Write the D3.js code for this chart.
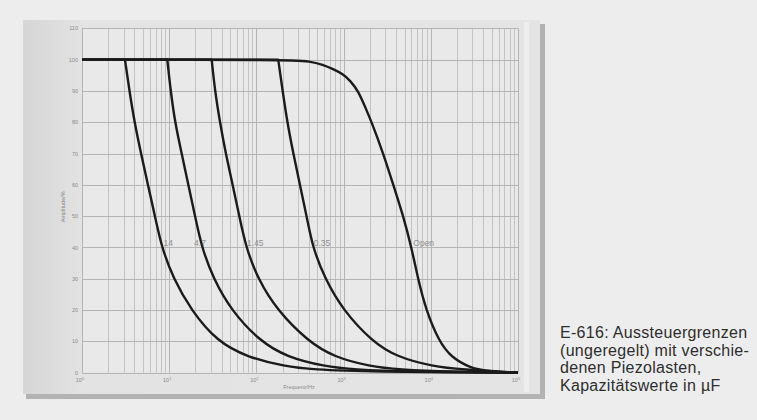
<!DOCTYPE html>
<html>
<head>
<meta charset="utf-8">
<script src="https://cdn.jsdelivr.net/npm/d3@7"></script>
<style>
  html, body { margin: 0; padding: 0; background: #ededed; }
  svg { display: block; font-family: "Liberation Sans", Arial, sans-serif; }
</style>
</head>
<body>
<svg id="chart" width="757" height="420"></svg>
<script>
// series names (capacitance in µF)
var seriesNames = ["14", "4.7", "1.45", "0.35", "Open"];

// frequency in Hz, amplitude in %
var freq14 = [3.11, 3.5, 4.0, 4.75, 5.71, 6.87, 8.2, 11.2, 17.8, 35.3, 78, 213, 446, 1855, 100000];
var amp14  = [100, 90, 80, 70, 60, 50, 40, 30, 20, 10, 5, 2, 1, 0.3, 0];

var freq4p7 = [9.51, 10.4, 11.65, 13.9, 16.6, 19.8, 23.6, 32.2, 51.1, 110, 224, 612, 1282, 5335, 100000];
var amp4p7  = [100, 90, 80, 70, 60, 50, 40, 30, 20, 10, 5, 2, 1, 0.3, 0];

var freq1p45 = [30.7, 33.5, 38.2, 44.5, 53.5, 63.7, 76, 104, 172, 391, 776, 2009, 4206, 17500, 100000];
var amp1p45  = [100, 90, 80, 70, 60, 50, 40, 30, 20, 10, 5, 2, 1, 0.3, 0];

var freq0p35 = [178, 200, 226, 265, 316, 377, 442, 612, 984, 2117, 4097, 10600, 22200, 100000];
var amp0p35  = [100, 90, 80, 70, 60, 50, 40, 30, 20, 10, 5, 2, 1, 0];

var freqOpen = [1, 243, 412, 580, 756, 984, 1184, 1474, 1760, 2100, 2853, 3715, 4837, 6005, 7132, 8810, 12420, 17050, 28140, 47730, 100000];
var ampOpen  = [100, 100, 99.5, 98.4, 97, 95.4, 93.4, 90, 85, 80, 70, 60, 50, 40, 30, 20, 10, 5, 1.5, 0.4, 0];

// where each curve label sits (Hz, at 40 %)
var labelFreq = [8.6, 19.3, 78, 455, 6300];
var labelAmp = 40;

var yTicks = [0, 10, 20, 30, 40, 50, 60, 70, 80, 90, 100, 110];
var xDecades = [0, 1, 2, 3, 4, 5];

var captionLines = [
  "E-616: Aussteuergrenzen",
  "(ungeregelt) mit verschie-",
  "denen Piezolasten,",
  "Kapazitätswerte in µF"
];

var xTitle = "Frequenz/Hz";
var yTitle = "Amplitude/%";

var allFreq = [freq14, freq4p7, freq1p45, freq0p35, freqOpen];
var allAmp = [amp14, amp4p7, amp1p45, amp0p35, ampOpen];

var series = seriesNames.map((name, i) => ({
  name: name,
  points: allFreq[i].map((f, j) => ({ f: f, a: allAmp[i][j] })),
  labelF: labelFreq[i]
}));

function drawChart() {
  var svg = d3.select("#chart");

  var x = d3.scaleLog().domain([1, 1e5]).range([82, 518]);
  var y = d3.scaleLinear().domain([0, 110]).range([372.7, 28.4]);

  // panel with shadow
  var defs = svg.append("defs");
  var grad = defs.append("linearGradient").attr("id", "panelGrad")
      .attr("x1", "0").attr("x2", "1").attr("y1", "0").attr("y2", "0");
  grad.append("stop").attr("offset", "0").attr("stop-color", "#d6d6d6");
  grad.append("stop").attr("offset", "0.12").attr("stop-color", "#e3e3e3");
  grad.append("stop").attr("offset", "1").attr("stop-color", "#e4e4e4");

  svg.append("rect")
      .attr("x", 26).attr("y", 24)
      .attr("width", 519).attr("height", 375)
      .attr("fill", "#b3b3b3");
  svg.append("rect")
      .attr("x", 23).attr("y", 20)
      .attr("width", 517).attr("height", 374)
      .attr("fill", "url(#panelGrad)");
  svg.append("rect")
      .attr("x", 524).attr("y", 22)
      .attr("width", 5).attr("height", 370)
      .attr("fill", "#eeeeee");

  // plot area
  svg.append("rect")
      .attr("x", x(1)).attr("y", y(110))
      .attr("width", x(1e5) - x(1)).attr("height", y(0) - y(110))
      .attr("fill", "#e9e9e9");

  var minorTicks = [];
  xDecades.forEach(d => {
    for (var k = 1; k < 10; k++) {
      var v = k * Math.pow(10, d);
      if (v <= 1e5) minorTicks.push(v);
    }
  });

  var grid = svg.append("g").attr("class", "grid");
  grid.selectAll(".vline")
    .data(minorTicks)
    .enter()
      .append("line")
      .attr("x1", d => Math.round(x(d)) + 0.5)
      .attr("x2", d => Math.round(x(d)) + 0.5)
      .attr("y1", y(110))
      .attr("y2", y(0))
      .attr("stroke", d => Math.log10(d) % 1 === 0 ? "#b4b4b4" : "#c3c3c3")
      .attr("stroke-width", 1);

  grid.selectAll(".hline")
    .data(yTicks)
    .enter()
      .append("line")
      .attr("x1", x(1))
      .attr("x2", x(1e5))
      .attr("y1", d => Math.round(y(d)) + 0.5)
      .attr("y2", d => Math.round(y(d)) + 0.5)
      .attr("stroke", "#b4b4b4")
      .attr("stroke-width", 1);

  // y tick labels
  svg.append("g").selectAll("text")
    .data(yTicks)
    .enter()
      .append("text")
      .attr("x", x(1) - 4)
      .attr("y", d => y(d) + 2)
      .attr("text-anchor", "end")
      .attr("font-size", "5.5px")
      .attr("fill", "#8a8a8a")
      .text(d => d);

  // x tick labels 10^n
  var xl = svg.append("g").selectAll("text")
    .data(xDecades)
    .enter()
      .append("text")
      .attr("x", d => x(Math.pow(10, d)) - 2)
      .attr("y", 382)
      .attr("text-anchor", "middle")
      .attr("font-size", "5.5px")
      .attr("fill", "#8a8a8a");
  xl.append("tspan").text("10");
  xl.append("tspan").attr("dy", "-2.5").attr("font-size", "4px").text(d => d);

  svg.append("text")
      .attr("x", 299).attr("y", 389)
      .attr("text-anchor", "middle")
      .attr("font-size", "5.5px")
      .attr("fill", "#8a8a8a")
      .text(xTitle);

  svg.append("text")
      .attr("transform", "translate(65," + y(53) + ") rotate(-90)")
      .attr("text-anchor", "middle")
      .attr("font-size", "5.5px")
      .attr("fill", "#8a8a8a")
      .text(yTitle);

  // curves
  var line = d3.line()
      .x(d => x(d.f))
      .y(d => y(d.a))
      .curve(d3.curveBasis);

  svg.append("g").selectAll(".curve")
    .data(series)
    .enter()
      .append("path")
      .classed("curve", true)
      .attr("d", d => {
        // flat part from 1 Hz up to the break, then the smoothed fall-off
        var flat = d3.line().x(p => x(p.f)).y(p => y(p.a))([{ f: 1, a: 100 }, d.points[0]]);
        return flat + line(d.points).replace(/^M/, "L");
      })
      .attr("fill", "none")
      .attr("stroke", "#1b1b1b")
      .attr("stroke-width", 2.4)
      .attr("stroke-linejoin", "round");

  svg.append("g").selectAll(".curve-label")
    .data(series)
    .enter()
      .append("text")
      .classed("curve-label", true)
      .attr("x", d => x(d.labelF))
      .attr("y", y(labelAmp) - 1.5)
      .attr("font-size", "8.5px")
      .attr("fill", "#8f8f8f")
      .text(d => d.name);

  // caption
  svg.append("g").selectAll("text")
    .data(captionLines)
    .enter()
      .append("text")
      .attr("x", 560)
      .attr("y", (d, i) => 338.3 + i * 17.4)
      .attr("font-size", "16px")
      .attr("letter-spacing", "0.3px")
      .attr("fill", "#2e2e2e")
      .text(d => d);
}

drawChart();
</script>
</body>
</html>
